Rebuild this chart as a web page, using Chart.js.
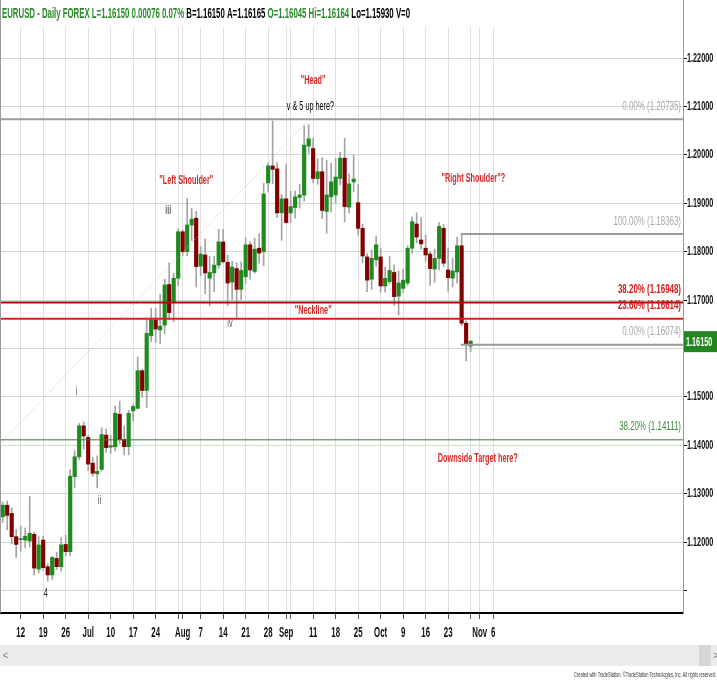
<!DOCTYPE html>
<html lang="en">
<head>
<meta charset="UTF-8">
<title>EURUSD - Daily</title>
<script src="https://cdn.jsdelivr.net/npm/chart.js"></script>
<style>
  body { margin: 0; background: #fff; }
  #chart { display: block; }
</style>
</head>
<body>
<canvas id="chart" width="717" height="681"></canvas>
<script>
// trading day index 0 = Jun 6 2017 ... 104 = Oct 30 2017
const tickPos  = [4, 9, 14, 19, 24, 29, 34, 40, 44, 49, 54, 59, 63, 69, 74, 79, 84, 89, 94, 99, 106, 109];
const tickText = ['12', '19', '26', 'Jul', '10', '17', '24', 'Aug', '7', '14', '21', '28', 'Sep', '11', '18', '25', 'Oct', '9', '16', '23', 'Nov', '6'];
const weekPos  = [39, 64, 104];   // Monday grid lines next to the month labels

const priceTicks  = [1.11, 1.12, 1.13, 1.14, 1.15, 1.16, 1.17, 1.18, 1.19, 1.20, 1.21, 1.22];
const priceLabels = ['', '1.12000', '1.13000', '1.14000', '1.15000', '', '1.17000', '1.18000', '1.19000', '1.20000', '1.21000', '1.22000'];

const openP = [
  1.1252, 1.1276, 1.1259, 1.1211, 1.1205, 1.1204, 1.1202, 1.1216, 1.1144, 1.1204,
  1.1149, 1.1132, 1.1166, 1.1149, 1.1195, 1.1180, 1.1335, 1.1376, 1.1440, 1.1416,
  1.1363, 1.1341, 1.1350, 1.1421, 1.1396, 1.1397, 1.1464, 1.1412, 1.1397, 1.1471,
  1.1476, 1.1554, 1.1513, 1.1626, 1.1659, 1.1638, 1.1648, 1.1732, 1.1697, 1.1745,
  1.1841, 1.1800, 1.1855, 1.1869, 1.1770, 1.1793, 1.1745, 1.1756, 1.1772, 1.1820,
  1.1778, 1.1737, 1.1765, 1.1722, 1.1748, 1.1814, 1.1759, 1.1807, 1.1800, 1.1942,
  1.1977, 1.1971, 1.1880, 1.1909, 1.1880, 1.1891, 1.1912, 1.1917, 1.2018, 1.2013,
  1.1951, 1.1965, 1.1883, 1.1913, 1.1917, 1.1951, 1.1993, 1.1892, 1.1944, 1.1901,
  1.1848, 1.1789, 1.1743, 1.1783, 1.1789, 1.1729, 1.1738, 1.1757, 1.1708, 1.1724,
  1.1735, 1.1807, 1.1857, 1.1824, 1.1807, 1.1795, 1.1764, 1.1786, 1.1848, 1.1762,
  1.1745, 1.1758, 1.1812, 1.1652, 1.16045
];
const highP = [
  1.1283, 1.1285, 1.1270, 1.1226, 1.1233, 1.1229, 1.1294, 1.1220, 1.1211, 1.1212,
  1.1155, 1.1170, 1.1179, 1.1209, 1.1214, 1.1350, 1.1389, 1.1445, 1.1448, 1.1420,
  1.1375, 1.1378, 1.1436, 1.1433, 1.1420, 1.1481, 1.1491, 1.1440, 1.1472, 1.1484,
  1.1582, 1.1557, 1.1659, 1.1683, 1.1683, 1.1712, 1.1743, 1.1777, 1.1755, 1.1847,
  1.1845, 1.1910, 1.1889, 1.1883, 1.1810, 1.1826, 1.1790, 1.1791, 1.1846, 1.1846,
  1.1793, 1.1780, 1.1777, 1.1779, 1.1829, 1.1820, 1.1828, 1.1837, 1.1941, 1.1983,
  1.2070, 1.1984, 1.1918, 1.1980, 1.1925, 1.1925, 1.1939, 1.2060, 1.2062, 1.2034,
  1.1992, 1.1994, 1.1989, 1.1983, 1.1992, 1.2005, 1.2034, 1.1960, 1.2000, 1.1939,
  1.1857, 1.1796, 1.1804, 1.1832, 1.1807, 1.1768, 1.1790, 1.1772, 1.1760, 1.1764,
  1.1812, 1.1872, 1.1880, 1.1870, 1.1834, 1.1800, 1.1805, 1.1860, 1.1856, 1.1808,
  1.1786, 1.1830, 1.1834, 1.1657, 1.16164
];
const lowP = [
  1.1240, 1.1225, 1.1196, 1.1168, 1.1181, 1.1188, 1.1190, 1.1132, 1.1136, 1.1142,
  1.1119, 1.1122, 1.1143, 1.1140, 1.1172, 1.1172, 1.1312, 1.1370, 1.1392, 1.1348,
  1.1336, 1.1312, 1.1346, 1.1385, 1.1383, 1.1388, 1.1403, 1.1380, 1.1380, 1.1450,
  1.1475, 1.1499, 1.1478, 1.1614, 1.1612, 1.1610, 1.1630, 1.1660, 1.1655, 1.1730,
  1.1792, 1.1791, 1.1823, 1.1727, 1.1750, 1.1713, 1.1688, 1.1717, 1.1766, 1.1776,
  1.1688, 1.1700, 1.1662, 1.1700, 1.1734, 1.1743, 1.1755, 1.1776, 1.1771, 1.1924,
  1.1940, 1.1870, 1.1823, 1.1858, 1.1860, 1.1869, 1.1890, 1.1904, 1.2003, 1.1942,
  1.1939, 1.1868, 1.1838, 1.1882, 1.1900, 1.1938, 1.1861, 1.1880, 1.1924, 1.1834,
  1.1777, 1.1717, 1.1722, 1.1770, 1.1716, 1.1716, 1.1734, 1.1689, 1.1669, 1.1716,
  1.1730, 1.1796, 1.1818, 1.1805, 1.1780, 1.1730, 1.1736, 1.1762, 1.1769, 1.1718,
  1.1727, 1.1735, 1.1647, 1.1574, 1.15930
];
const closeP = [
  1.1276, 1.1255, 1.1211, 1.1195, 1.1207, 1.1212, 1.1218, 1.1146, 1.1194, 1.1147,
  1.1132, 1.1168, 1.1149, 1.1194, 1.1180, 1.1336, 1.1376, 1.1440, 1.1419, 1.1361,
  1.1342, 1.1346, 1.1422, 1.1395, 1.1399, 1.1466, 1.1412, 1.1397, 1.1466, 1.1480,
  1.1554, 1.1513, 1.1631, 1.1659, 1.1640, 1.1646, 1.1731, 1.1674, 1.1745, 1.1841,
  1.1800, 1.1855, 1.1867, 1.1769, 1.1795, 1.1756, 1.1757, 1.1772, 1.1820, 1.1779,
  1.1735, 1.1768, 1.1722, 1.1761, 1.1814, 1.1762, 1.1805, 1.1797, 1.1919, 1.1977,
  1.1970, 1.1880, 1.1909, 1.1860, 1.1893, 1.1913, 1.1917, 1.2020, 1.2033, 1.1951,
  1.1965, 1.1885, 1.1917, 1.1944, 1.1954, 1.1993, 1.1893, 1.1940, 1.1950, 1.1848,
  1.1791, 1.1741, 1.1786, 1.1814, 1.1729, 1.1745, 1.1761, 1.1707, 1.1735, 1.1741,
  1.1807, 1.1862, 1.1830, 1.1816, 1.1793, 1.1765, 1.1786, 1.1852, 1.1776, 1.1746,
  1.1760, 1.1812, 1.1652, 1.1609, 1.16150
];

// fibonacci levels drawn on the chart, start index of each line
const fibLevel = [1.20735, 1.18363, 1.16948, 1.16614, 1.16074, 1.14111];
const fibText  = ['0.00% (1.20735)', '100.00% (1.18363)', '38.20% (1.16948)', '23.60% (1.16614)', '0.00% (1.16074)', '38.20% (1.14111)'];
const fibStart = [-0.6, 101.8, -0.6, -0.6, 101.8, -0.6];

// dotted trend line (index, price)
const trendX = [-0.6, 67.6];
const trendY = [1.14025, 1.2068];

// chart notes (index, price)
const noteText = ['"Head"', 'v & 5 up here?', '"Left Shoulder"', '"Right Shoulder"?', '"Neckline"', 'Downside Target here?', 'i', 'ii', 'iii', 'iv', '4'];
const noteX    = [69, 68.4, 40.8, 104.6, 69, 105.6, 16.4, 21.5, 36.8, 50.5, 9.55];
const noteY    = [1.21545, 1.20994, 1.19479, 1.19521, 1.16793, 1.13736, 1.15105, 1.12868, 1.18860, 1.16519, 1.10940];

const lastPrice = 1.16150;

// ---- styles ----
const X_MIN = -0.6, X_MAX = 151.2;
const FONT = "'Liberation Sans', Arial, sans-serif";
const SQ = 0.56;   // the screenshot is squeezed horizontally
const GREEN = '#1f8b1f', RED = '#820000';
const fibStyle = [
  { color: '#9a9a9a', width: 2, text: '#a8a8a8', bold: false },
  { color: '#9a9a9a', width: 2, text: '#a8a8a8', bold: false },
  { color: '#a80c0c', width: 2, text: '#d01c1c', bold: true },
  { color: '#dc1e1e', width: 2, text: '#d01c1c', bold: true },
  { color: '#9a9a9a', width: 2, text: '#a8a8a8', bold: false },
  { color: '#2f7f2f', width: 1, text: '#3c8c3c', bold: false }
];
const noteStyle = [
  ['#d42a2a', true], ['#000', false], ['#d42a2a', true], ['#d42a2a', true], ['#d42a2a', true], ['#d42a2a', true],
  ['#555', false], ['#555', false], ['#666', true], ['#555', false], ['#222', false]
];

function squeezed(ctx, s, x, y, align, font, color, sx) {
  ctx.save();
  ctx.font = font;
  ctx.fillStyle = color;
  ctx.textBaseline = 'middle';
  ctx.textAlign = 'left';
  const w = ctx.measureText(s).width * sx;
  const left = align === 'center' ? x - w / 2 : (align === 'right' ? x - w : x);
  ctx.translate(left, y);
  ctx.scale(sx, 1);
  ctx.fillText(s, 0, 0);
  ctx.restore();
  return w;
}

const textPlugin = {
  id: 'tsText',
  afterDraw(chart) {
    const ctx = chart.ctx, xs = chart.scales.x, ys = chart.scales.y, a = chart.chartArea;

    // right axis line continues to the top
    ctx.save();
    ctx.strokeStyle = '#9a9a9a';
    ctx.lineWidth = 1;
    ctx.beginPath();
    ctx.moveTo(a.right + 0.5, 0);
    ctx.lineTo(a.right + 0.5, a.top);
    ctx.moveTo(0.5, 0);
    ctx.lineTo(0.5, a.bottom);
    ctx.stroke();
    ctx.restore();

    // title line
    const parts = [
      ['EURUSD - Daily FOREX L=1.16150 0.00076 0.07% ', '#2a8a2a'],
      ['B=1.16150 A=1.16165 ', '#000'],
      ['O=1.16045 Hi=1.16164 ', '#2a8a2a'],
      ['Lo=1.15930 V=0', '#000']
    ];
    const tf = 'bold 15px ' + FONT;
    ctx.font = tf;
    const full = ctx.measureText(parts.map(p => p[0]).join('')).width;
    const tsx = 408 / full;
    let tx = 2;
    parts.forEach(p => { tx += squeezed(ctx, p[0], tx, 14, 'left', tf, p[1], tsx); });

    // price labels
    priceTicks.forEach((v, k) => {
      if (!priceLabels[k]) return;
      squeezed(ctx, priceLabels[k], a.right + 4, ys.getPixelForValue(v), 'left', 'bold 13px ' + FONT, '#111', SQ);
    });

    // date labels
    tickPos.forEach((v, k) => {
      squeezed(ctx, tickText[k], xs.getPixelForValue(v), a.bottom + 20, 'center', 'bold 14px ' + FONT, '#111', SQ);
    });

    // fib labels
    fibLevel.forEach((p, k) => {
      const st = fibStyle[k];
      squeezed(ctx, fibText[k], a.right - 2, ys.getPixelForValue(p) - 13, 'right',
        (st.bold ? 'bold ' : '') + '13px ' + FONT, st.text, 0.61);
    });

    // notes
    noteText.forEach((s, k) => {
      const st = noteStyle[k];
      squeezed(ctx, s, xs.getPixelForValue(noteX[k]), ys.getPixelForValue(noteY[k]), 'center',
        (st[1] ? 'bold ' : '') + '13px ' + FONT, st[0], SQ);
    });

    // last price box
    const ly = ys.getPixelForValue(lastPrice);
    ctx.save();
    ctx.fillStyle = '#23861f';
    ctx.fillRect(a.right + 1, ly - 10, chart.width - a.right - 1, 21);
    ctx.restore();
    squeezed(ctx, lastPrice.toFixed(5), a.right + 3, ly + 1, 'left', 'bold 13px ' + FONT, '#fff', SQ);

    // scroll bar + footer
    ctx.save();
    ctx.fillStyle = '#ececec';
    ctx.fillRect(0, 645, chart.width, 21);
    ctx.fillStyle = '#d6d6d6';
    ctx.fillRect(699, 645, 12, 21);
    ctx.restore();
    squeezed(ctx, '<', 3, 656, 'left', '11px ' + FONT, '#777', 0.8);
    squeezed(ctx, '>', 713, 656, 'left', '11px ' + FONT, '#777', 0.8);
    ctx.font = '8px ' + FONT;
    const foot = 'Created with TradeStation. \u00A9TradeStation Technologies, Inc. All rights reserved.';
    squeezed(ctx, foot, 716, 675, 'right', '8px ' + FONT, '#333', 142 / ctx.measureText(foot).width);
  }
};

const wickData = highP.map((h, i) => ({ x: i, y: [lowP[i], h] }));
const bodyData = openP.map((o, i) => ({ x: i, y: [o, closeP[i]] }));
const bodyColor = openP.map((o, i) => (closeP[i] >= o ? GREEN : RED));

const fibSets = fibLevel.map((p, k) => ({
  type: 'line',
  data: [{ x: fibStart[k], y: p }, { x: X_MAX, y: p }],
  borderColor: fibStyle[k].color,
  borderWidth: fibStyle[k].width,
  pointRadius: 0,
  order: 0
}));

new Chart(document.getElementById('chart'), {
  type: 'bar',
  data: {
    datasets: [
      {
        data: wickData,
        backgroundColor: '#a4a4a4',
        barThickness: 1,
        grouped: false,
        order: 3
      },
      {
        data: bodyData,
        backgroundColor: bodyColor,
        barThickness: 3.5,
        minBarLength: 1,
        grouped: false,
        order: 2
      },
      {
        type: 'line',
        data: [{ x: trendX[0], y: trendY[0] }, { x: trendX[1], y: trendY[1] }],
        borderColor: '#bdbdbd',
        borderWidth: 1,
        borderDash: [1, 2],
        pointRadius: 0,
        order: 1
      },
      ...fibSets
    ]
  },
  options: {
    responsive: false,
    animation: false,
    events: [],
    layout: { padding: { top: 27, bottom: 36, left: 0, right: 0 } },
    plugins: { legend: { display: false }, tooltip: { enabled: false } },
    scales: {
      x: {
        type: 'linear',
        min: X_MIN,
        max: X_MAX,
        offset: false,
        bounds: 'data',
        grid: { color: '#e0e0e0', offset: false, tickLength: 6, tickColor: '#555' },
        border: { color: '#000', width: 2 },
        ticks: { display: false },
        afterBuildTicks: s => {
          s.ticks = tickPos.concat(weekPos).sort((p, q) => p - q).map(v => ({ value: v }));
        },
        afterFit: s => { s.height = 32; }
      },
      y: {
        type: 'linear',
        position: 'right',
        min: 1.105331,
        max: 1.226405,
        beginAtZero: false,
        grid: { color: '#cadcca', tickLength: 4, tickColor: '#000' },
        border: { color: '#9a9a9a', width: 1 },
        ticks: { display: false },
        afterBuildTicks: s => { s.ticks = priceTicks.map(v => ({ value: v })); },
        afterFit: s => { s.width = 34; }
      }
    }
  },
  plugins: [textPlugin]
});
</script>
</body>
</html>
